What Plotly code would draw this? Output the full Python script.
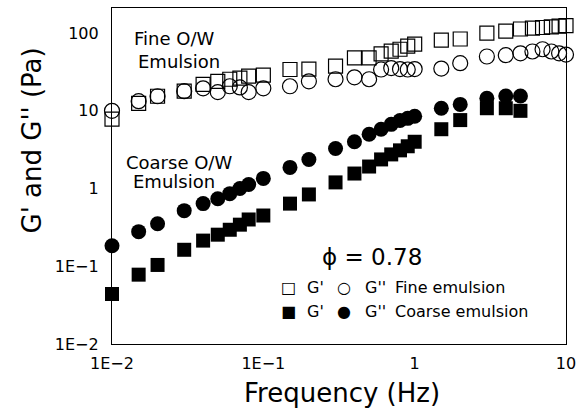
import plotly.graph_objects as go

# ---- data ----
freq_fine = [0.01, 0.015, 0.02, 0.03, 0.04, 0.05, 0.06, 0.07, 0.08, 0.1,
             0.15, 0.2, 0.3, 0.4, 0.5, 0.6, 0.7, 0.8, 0.9, 1.0,
             1.5, 2, 3, 4, 5, 6, 7, 8, 9, 10]
fine_Gp = [7.8, 12.5, 15.4, 17.9, 21.9, 24, 25.5, 26.4, 27.9, 28.8,
           34, 34.5, 37.5, 48, 48, 54, 58.5, 62, 68, 72,
           81, 84, 100, 106, 113, 116, 118, 120, 123, 125]
fine_Gpp = [10, 13.3, 15.4, 17.9, 19.5, 17.4, 20.7, 20, 17.4, 19.5,
            20.7, 24, 25.5, 27, 25.5, 34, 35.5, 34.5, 34, 34.5,
            35, 41, 50, 52, 55, 58, 62, 58, 55, 53]

freq_coarse = [0.01, 0.015, 0.02, 0.03, 0.04, 0.05, 0.06, 0.07, 0.08, 0.1,
               0.15, 0.2, 0.3, 0.4, 0.5, 0.6, 0.7, 0.8, 0.9, 1.0,
               1.5, 2, 3, 4, 5]
coarse_Gp = [0.044, 0.078, 0.104, 0.163, 0.214, 0.255, 0.295, 0.343, 0.40, 0.45,
             0.64, 0.84, 1.2, 1.56, 1.92, 2.37, 2.75, 3.1, 3.5, 4.0,
             5.8, 7.6, 10.8, 10.8, 10.0]
coarse_Gpp = [0.184, 0.279, 0.353, 0.52, 0.64, 0.74, 0.86, 1.0, 1.13, 1.35,
              1.87, 2.37, 3.28, 4.0, 5.0, 5.8, 6.7, 7.5, 8.0, 8.5,
              10.8, 12.1, 14.5, 15.5, 15.5]

x_tickvals = [0.01, 0.1, 1, 10]
x_ticktext = ["1E\u22122", "1E\u22121", "1", "10"]
y_tickvals = [0.01, 0.1, 1, 10, 100]
y_ticktext = ["1E\u22122", "1E\u22121", "1", "10", "100"]

FONT = "DejaVu Sans"
MS = 14
XR = [-2, 1]
YR = [-2, 2.323]

fig = go.Figure()
fig.add_trace(go.Scatter(x=freq_fine, y=fine_Gp, mode="markers", cliponaxis=False,
                         marker=dict(symbol="square-open", size=MS, color="black",
                                     line=dict(width=1.2, color="black"))))
fig.add_trace(go.Scatter(x=freq_fine, y=fine_Gpp, mode="markers", cliponaxis=False,
                         marker=dict(symbol="circle-open", size=MS+1, color="black",
                                     line=dict(width=1.2, color="black"))))
fig.add_trace(go.Scatter(x=freq_coarse, y=coarse_Gp, mode="markers", cliponaxis=False,
                         marker=dict(symbol="square", size=MS, color="black",
                                     line=dict(width=0))))
fig.add_trace(go.Scatter(x=freq_coarse, y=coarse_Gpp, mode="markers", cliponaxis=False,
                         marker=dict(symbol="circle", size=MS+1, color="black",
                                     line=dict(width=0))))

tickfont = dict(family=FONT, size=16, color="black")
minor = dict(ticks="inside", ticklen=4, tickwidth=1.2, tickcolor="black", dtick="D1")

# main axes: labels only (transparent outside ticks just set the label gap)
main = dict(type="log", showline=True, linecolor="black", linewidth=1.2, mirror=True,
            ticks="outside", tickcolor="rgba(0,0,0,0)", showgrid=False, zeroline=False,
            tickmode="array", tickfont=tickfont)
# overlay axes: automatic decade ticks + minor ticks, no labels
tickax = dict(type="log", showline=True, linecolor="black", linewidth=1.2, mirror="ticks",
              ticks="inside", ticklen=7, tickwidth=1.2, tickcolor="black",
              dtick=1, showticklabels=False, showgrid=False, zeroline=False, minor=minor)

fig.update_layout(
    width=583, height=415,
    margin=dict(l=112, r=12, t=7, b=71),
    paper_bgcolor="white", plot_bgcolor="white",
    showlegend=False,
    font=dict(family=FONT, color="black"),
    xaxis=dict(main, range=XR, ticklen=5, tickvals=x_tickvals, ticktext=x_ticktext),
    yaxis=dict(main, range=YR, ticklen=9, tickvals=y_tickvals, ticktext=y_ticktext),
    xaxis2=dict(tickax, range=XR, overlaying="x", anchor="y", side="bottom"),
    yaxis2=dict(tickax, range=YR, overlaying="y", anchor="x", side="left"),
)

def px_x(p):
    return (p - 112) / 459.0

def px_y(p):
    return (344 - p) / 337.0

def ann(text, x, y, size, xanchor="left", yanchor="middle", angle=0):
    fig.add_annotation(text=text, xref="paper", yref="paper", x=px_x(x), y=px_y(y),
                       xanchor=xanchor, yanchor=yanchor, showarrow=False,
                       textangle=angle, font=dict(family=FONT, size=size, color="black"))

# axis titles
ann("G' and G'' (Pa)", 31, 140, 26, xanchor="center", yanchor="middle", angle=-90)
ann("Frequency (Hz)", 345, 393, 26, xanchor="center", yanchor="middle")

# in-plot labels
ann("Fine O/W", 132, 38, 18)
ann("Emulsion", 136, 61, 18)
ann("Coarse O/W", 124, 162, 18)
ann("Emulsion", 131, 181, 18)
ann("\u03d5 = 0.78", 375, 257, 23, xanchor="center")

# legend block
ann("\u25a1", 281, 287, 16)
ann("G'", 307, 287, 16)
ann("\u25cb", 337, 287, 16)
ann("G''", 366, 287, 16)
ann("Fine emulsion", 396, 287, 16)
ann("\u25a0", 281, 311, 16)
ann("G'", 307, 311, 16)
ann("\u25cf", 337, 311, 16)
ann("G''", 366, 311, 16)
ann("Coarse emulsion", 396, 311, 16)

fig.write_html("out.html")
